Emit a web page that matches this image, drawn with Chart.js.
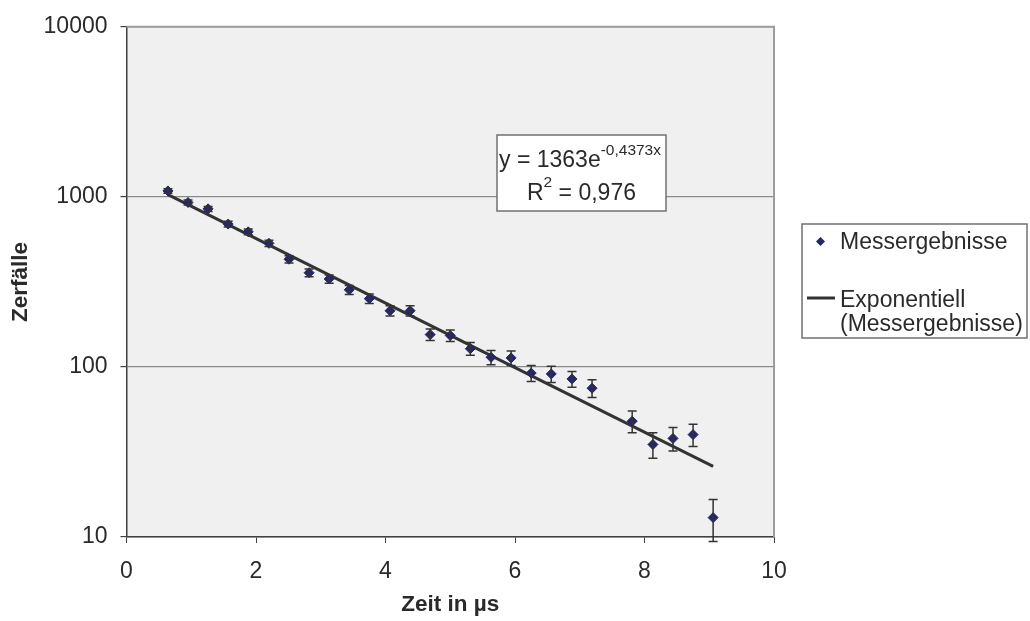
<!DOCTYPE html>
<html>
<head>
<meta charset="utf-8">
<script src="https://cdn.jsdelivr.net/npm/chart.js@4/dist/chart.umd.min.js"></script>
<style>
  body { margin: 0; background: #fff; }
  #chart { display: block; }
</style>
</head>
<body>
<canvas id="chart" width="1030" height="621"></canvas>
<script>
// measured times (µs), counts and their errors
const times = [0.64, 0.95, 1.26, 1.57, 1.88, 2.20, 2.51, 2.82, 3.13, 3.44, 3.75, 4.07, 4.38, 4.69,
  5.00, 5.31, 5.63, 5.94, 6.25, 6.56, 6.88, 7.19, 7.81, 8.13, 8.44, 8.75, 9.06];
const counts = [1084, 927, 850, 692, 623, 533, 430, 358, 329, 284, 252, 214, 214, 155,
  153, 128, 114, 113, 92, 91, 85, 75, 48, 35, 38, 40, 13];
const errors = [33, 30, 29, 26, 25, 23, 21, 19, 18, 17, 16, 15, 15, 12,
  12, 11, 11, 11, 10, 10, 9, 9, 7, 6, 6, 6, 3.6];

// trend line end points
const fitX = [0.64, 9.06];
const fitY = [1032, 26];

const yTicks = [10, 100, 1000, 10000];
const xTicks = [0, 2, 4, 6, 8, 10];

const legendLabels = ["Messergebnisse", "Exponentiell", "(Messergebnisse)"];
const eqText = { main: "y = 1363e", exp: "-0,4373x", r: "R", rExp: "2", rRest: " = 0,976" };

const FONT = "'Liberation Sans', Arial, sans-serif";
const TEXT = "#2a2a2a";
const MARK = "#25256b";

const plotBg = {
  id: "plotBg",
  beforeDraw(chart) {
    const { ctx, chartArea: a } = chart;
    ctx.save();
    ctx.fillStyle = "#f0f0f0";
    ctx.fillRect(a.left, a.top, a.right - a.left, a.bottom - a.top);
    ctx.restore();
  },
  afterDraw(chart) {
    const { ctx, chartArea: a } = chart;
    ctx.save();
    // top + right border
    ctx.strokeStyle = "#a09a9a";
    ctx.lineWidth = 2;
    ctx.beginPath();
    ctx.moveTo(a.left, a.top);
    ctx.lineTo(a.right, a.top);
    ctx.lineTo(a.right, a.bottom);
    ctx.stroke();

    // equation box
    ctx.fillStyle = "#fff";
    ctx.fillRect(497, 135, 169, 76);
    ctx.strokeStyle = "#707070";
    ctx.lineWidth = 1.5;
    ctx.strokeRect(497, 135, 169, 76);
    ctx.fillStyle = TEXT;
    ctx.textBaseline = "alphabetic";
    ctx.textAlign = "left";
    ctx.font = "23px " + FONT;
    ctx.fillText(eqText.main, 499, 167);
    let w = ctx.measureText(eqText.main).width;
    ctx.font = "15.5px " + FONT;
    ctx.fillText(eqText.exp, 499 + w, 155);
    ctx.font = "23px " + FONT;
    ctx.fillText(eqText.r, 527, 200);
    w = ctx.measureText(eqText.r).width;
    ctx.font = "15.5px " + FONT;
    ctx.fillText(eqText.rExp, 527 + w, 187);
    const w2 = ctx.measureText(eqText.rExp).width;
    ctx.font = "23px " + FONT;
    ctx.fillText(eqText.rRest, 527 + w + w2, 200);

    // legend
    ctx.fillStyle = "#fff";
    ctx.fillRect(802, 224, 225, 114);
    ctx.strokeStyle = "#707070";
    ctx.lineWidth = 1.5;
    ctx.strokeRect(802, 224, 225, 114);
    ctx.fillStyle = MARK;
    ctx.beginPath();
    ctx.moveTo(820.5, 237); ctx.lineTo(825, 241.5); ctx.lineTo(820.5, 246); ctx.lineTo(816, 241.5);
    ctx.closePath(); ctx.fill();
    ctx.strokeStyle = "#333";
    ctx.lineWidth = 3;
    ctx.beginPath();
    ctx.moveTo(807, 298); ctx.lineTo(835, 298);
    ctx.stroke();
    ctx.fillStyle = TEXT;
    ctx.font = "23px " + FONT;
    ctx.fillText(legendLabels[0], 840, 249);
    ctx.fillText(legendLabels[1], 840, 307);
    ctx.fillText(legendLabels[2], 840, 331);
    ctx.restore();
  }
};

const errorBars = {
  id: "errorBars",
  afterDatasetsDraw(chart) {
    const { ctx, scales: { x, y } } = chart;
    ctx.save();
    ctx.strokeStyle = "#333";
    ctx.lineWidth = 1.5;
    times.forEach((t, i) => {
      const px = x.getPixelForValue(t);
      const top = y.getPixelForValue(counts[i] + errors[i]);
      const bot = y.getPixelForValue(counts[i] - errors[i]);
      ctx.beginPath();
      ctx.moveTo(px, top); ctx.lineTo(px, bot);
      ctx.moveTo(px - 4.5, top); ctx.lineTo(px + 4.5, top);
      ctx.moveTo(px - 4.5, bot); ctx.lineTo(px + 4.5, bot);
      ctx.stroke();
    });
    ctx.restore();
  }
};

new Chart(document.getElementById("chart"), {
  type: "scatter",
  data: {
    datasets: [{
      label: legendLabels[0],
      data: times.map((t, i) => ({ x: t, y: counts[i] })),
      pointStyle: "rectRot",
      pointRadius: 5,
      backgroundColor: MARK,
      borderColor: MARK,
      borderWidth: 1,
      order: 1
    }, {
      label: "Exponentiell (Messergebnisse)",
      data: fitX.map((t, i) => ({ x: t, y: fitY[i] })),
      showLine: true,
      borderColor: "#333",
      borderWidth: 3,
      pointRadius: 0,
      order: 2
    }]
  },
  options: {
    responsive: false,
    animation: false,
    layout: { padding: { left: 0, right: 256, top: 26, bottom: 0 } },
    plugins: { legend: { display: false }, tooltip: { enabled: false } },
    scales: {
      x: {
        type: "linear",
        min: 0, max: 10,
        afterBuildTicks: s => { s.ticks = xTicks.map(v => ({ value: v })); },
        afterFit: s => { s.height = 84; },
        ticks: { color: TEXT, font: { family: FONT, size: 23 }, padding: 15 },
        grid: { drawOnChartArea: false, drawTicks: true, tickLength: 6, tickColor: "#404040" },
        border: { color: "#404040", width: 1.5 },
        title: { display: true, text: "Zeit in µs", color: TEXT, font: { family: FONT, size: 22.5, weight: "bold" }, padding: { bottom: 3 } }
      },
      y: {
        type: "logarithmic",
        min: 10, max: 10000,
        afterBuildTicks: s => { s.ticks = yTicks.map(v => ({ value: v })); },
        afterFit: s => { s.width = 126.5; },
        ticks: { color: TEXT, font: { family: FONT, size: 23 }, padding: 13, callback: v => String(v) },
        grid: { color: "#8a8a8a", lineWidth: 1.2, tickLength: 6, tickColor: "#404040" },
        border: { color: "#404040", width: 1.5 },
        title: { display: true, text: "Zerfälle", color: TEXT, font: { family: FONT, size: 22.5, weight: "bold" }, padding: { top: 7 } }
      }
    }
  },
  plugins: [plotBg, errorBars]
});
</script>
</body>
</html>
